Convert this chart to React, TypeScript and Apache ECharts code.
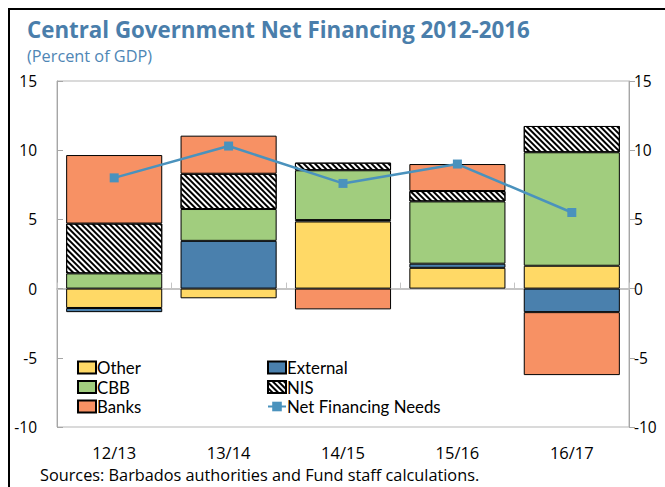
import React, { useEffect, useRef } from "react";
import * as echarts from "echarts";

const categories = ["12/13", "13/14", "14/15", "15/16", "16/17"];
const other = [-1.4, -0.7, 4.85, 1.5, 1.65];
const external = [-0.3, 3.45, 0.1, 0.3, -1.7];
const cbb = [1.1, 2.3, 3.6, 4.5, 8.2];
const nis = [3.6, 2.55, 0.55, 0.75, 1.9];
const banks = [4.95, 2.75, -1.5, 1.95, -4.55];
const netFinancingNeeds = [8.0, 10.3, 7.6, 9.0, 5.5];
const yTicks = { min: -10, max: 15, interval: 5 };

const FONT = "'Open Sans', 'Noto Sans', sans-serif";
const LEGEND_FONT = "Lato, 'Open Sans', sans-serif";

export default function App() {
  const ref = useRef<HTMLDivElement>(null);
  useEffect(() => {
    if (!ref.current) return;
    const chart = echarts.init(ref.current, null, { renderer: "svg" });
    const barBase = (name: string, data: number[], color: string, extra: any = {}) => ({
      name,
      type: "bar",
      stack: "total",
      data,
      barCategoryGap: "16%",
      itemStyle: { color, borderColor: "#000", borderWidth: 1, ...extra },
      emphasis: { disabled: true },
    });
    const legendText = {
      fontFamily: LEGEND_FONT,
      fontSize: 16.8,
      lineHeight: 17,
      color: "#000",
      padding: [0, 0, 0, -4],
    };
    chart.setOption({
      animation: false,
      textStyle: { fontFamily: FONT },
      title: [
        {
          text: "Central Government Net Financing 2012-2016",
          left: 22,
          top: 13,
          textStyle: { fontFamily: FONT, fontSize: 22.3, fontWeight: "bold", color: "#4a7eab" },
        },
        {
          text: "(Percent of GDP)",
          left: 22,
          top: 43,
          textStyle: { fontFamily: FONT, fontSize: 16.3, fontWeight: "normal", color: "#4f86b5" },
        },
        {
          text: "Sources: Barbados authorities and Fund staff calculations.",
          left: 35,
          top: 461,
          textStyle: { fontFamily: FONT, fontSize: 16.3, lineHeight: 17, fontWeight: "normal", color: "#000" },
        },
      ],
      grid: {
        left: 57,
        right: 36,
        top: 81,
        bottom: 60,
        show: true,
        borderColor: "#b5b5b5",
        borderWidth: 1,
        backgroundColor: "transparent",
      },
      legend: [
        {
          orient: "vertical",
          left: 72,
          top: 354,
          itemWidth: 18,
          itemHeight: 12,
          itemGap: 2.5,
          icon: "rect",
          data: ["Other", "CBB", "Banks"],
          textStyle: legendText,
          selectedMode: false,
        },
        {
          orient: "vertical",
          left: 262,
          top: 354,
          itemWidth: 18,
          itemHeight: 12,
          itemGap: 2.5,
          data: [
            { name: "External", icon: "rect" },
            { name: "NIS", icon: "rect" },
            { name: "Net Financing Needs" },
          ],
          textStyle: legendText,
          selectedMode: false,
        },
      ],
      xAxis: [
        {
          type: "category",
          data: categories,
          position: "bottom",
          axisLine: { show: false, onZero: false },
          axisTick: { show: false },
          axisLabel: { fontFamily: FONT, fontSize: 16.5, color: "#000", margin: 17 },
        },
        {
          type: "category",
          data: categories,
          position: "bottom",
          axisLine: { show: true, onZero: true, lineStyle: { color: "#c4c4c4", width: 2 } },
          axisTick: { show: true, inside: true, length: 6, lineStyle: { color: "#c4c4c4", width: 1 } },
          axisLabel: { show: false },
        },
      ],
      yAxis: [
        {
          type: "value",
          ...yTicks,
          position: "left",
          splitLine: { show: false },
          axisLine: { show: true, lineStyle: { color: "#a6a6a6", width: 1 } },
          axisTick: { show: true, inside: true, length: 6, lineStyle: { color: "#a6a6a6" } },
          axisLabel: { fontFamily: FONT, fontSize: 15.5, color: "#000", margin: 20 },
        },
        {
          type: "value",
          ...yTicks,
          position: "right",
          splitLine: { show: false },
          axisLine: { show: true, lineStyle: { color: "#a6a6a6", width: 1 } },
          axisTick: { show: true, inside: false, length: 6, lineStyle: { color: "#a6a6a6" } },
          axisLabel: { fontFamily: FONT, fontSize: 15.5, color: "#000", margin: 5 },
        },
      ],
      series: [
        barBase("Other", other, "#ffd966"),
        barBase("External", external, "#4a80ad"),
        barBase("CBB", cbb, "#a1cd7e"),
        barBase("NIS", nis, "#ffffff", {
          decal: {
            symbol: "rect",
            symbolSize: 1,
            dashArrayX: [1, 0],
            dashArrayY: [1.5, 1.5],
            rotation: Math.PI / 4,
            color: "#000",
            backgroundColor: "#fff",
          },
        }),
        barBase("Banks", banks, "#f79164"),
        {
          name: "Net Financing Needs",
          type: "line",
          data: netFinancingNeeds,
          symbol: "rect",
          symbolSize: 9,
          lineStyle: { color: "#4a92bd", width: 2.5 },
          itemStyle: { color: "#4a92bd" },
          z: 5,
          emphasis: { disabled: true },
        },
      ],
    });
    return () => chart.dispose();
  }, []);
  return (
    <div style={{ position: "absolute", left: 0, top: 0, width: 665, height: 487, overflow: "hidden", background: "#fff" }}>
      <div
        style={{
          position: "absolute",
          left: 8,
          top: 8,
          width: 800,
          height: 800,
          borderLeft: "2px solid #000",
          borderTop: "2px solid #000",
        }}
      />
      <div ref={ref} style={{ position: "absolute", left: 0, top: 0, width: 665, height: 487 }} />
    </div>
  );
}
